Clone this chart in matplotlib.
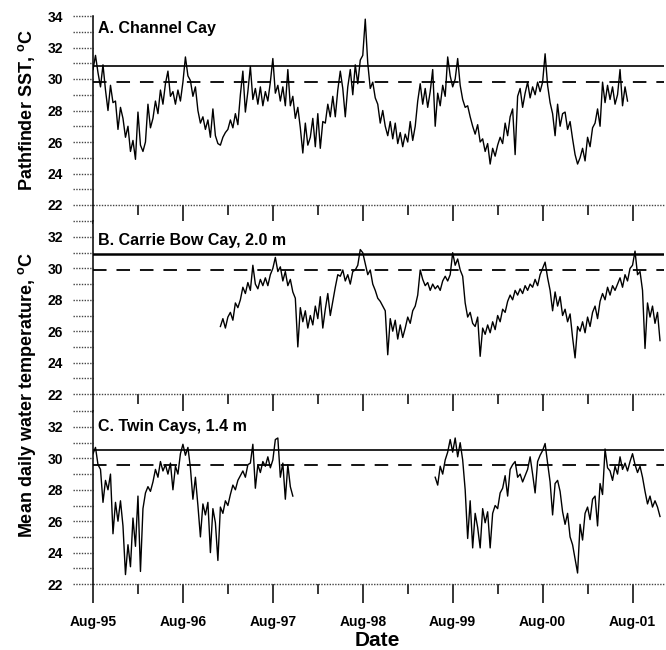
import matplotlib
matplotlib.use('Agg')
import matplotlib.pyplot as plt
import numpy as np

plt.rcParams['font.family'] = ['Liberation Sans', 'DejaVu Sans']
plt.rcParams['font.weight'] = 'bold'
plt.rcParams['mathtext.fontset'] = 'custom'
plt.rcParams['mathtext.rm'] = 'Liberation Sans:bold'
plt.rcParams['mathtext.bf'] = 'Liberation Sans:bold'
plt.rcParams['mathtext.it'] = 'Liberation Sans:bold'

# ---------------- data (x = months since Aug-1995, sampled ~every 10 days) ----------------
tick_labels = ["Aug-95", "Aug-96", "Aug-97", "Aug-98", "Aug-99", "Aug-00", "Aug-01"]
panel_titles = ["A. Channel Cay", "B. Carrie Bow Cay, 2.0 m", "C. Twin Cays, 1.4 m"]

a_start = 0.0
a_temp = [
    30.6, 31.5, 30.4, 29.5, 30.9, 29.3, 28.0, 29.6, 28.5, 28.6, 26.8, 28.2,
    27.5, 26.3, 27.0, 25.4, 26.1, 24.9, 27.9, 25.8, 25.4, 26.0, 28.4, 26.9,
    27.5, 28.6, 27.8, 29.3, 28.4, 29.7, 30.5, 28.9, 29.2, 28.4, 29.3, 28.6,
    29.8, 31.4, 30.2, 29.9, 28.9, 29.5, 28.0, 27.2, 27.6, 26.8, 27.4, 26.3,
    28.1, 26.4, 25.9, 25.8, 26.3, 26.6, 26.8, 27.4, 26.9, 27.8, 27.1, 29.0,
    30.5, 27.9, 29.2, 30.8, 28.7, 29.4, 28.4, 29.5, 28.3, 29.2, 28.6, 29.8,
    31.3, 29.1, 29.6, 28.6, 29.5, 28.3, 30.6, 28.3, 28.9, 27.5, 28.2, 26.9,
    25.3, 27.2, 25.8, 26.3, 27.5, 25.7, 27.8, 25.6, 27.3, 27.2, 28.4, 27.6,
    28.9, 27.6, 29.3, 30.5, 29.4, 27.6, 29.5, 30.6, 29.0, 30.9, 29.7, 31.2,
    31.5, 33.8, 31.0, 29.4, 29.8, 28.8, 28.4, 27.2, 28.0, 27.0, 26.4, 27.3,
    26.2, 27.2, 25.9, 26.6, 25.7, 26.5, 26.0, 27.3, 26.1, 27.0, 28.6, 29.7,
    28.4, 29.4, 28.2, 29.2, 30.6, 27.0, 29.1, 28.3, 29.6, 28.9, 31.4, 30.2,
    29.5, 30.0, 31.3, 29.6, 28.7, 28.2, 28.3, 27.6, 27.0, 26.5, 27.1, 26.0,
    26.2, 25.4, 25.9, 24.6, 25.6, 25.1, 25.8, 26.3, 25.9, 27.2, 26.4, 27.6,
    28.1, 25.2, 28.9, 29.4, 28.2, 29.1, 29.8, 28.8, 29.5, 29.0, 29.8, 29.2,
    29.8, 31.6, 29.6, 28.5, 27.8, 26.4, 28.4, 27.0, 27.8, 27.9, 26.8, 27.3,
    26.2, 25.2, 24.6, 25.0, 25.6, 24.8, 26.3, 25.7, 26.9, 27.2, 28.1, 27.0,
    29.8, 28.5, 29.6, 28.7, 29.5, 28.4, 29.0, 30.6, 28.3, 29.5, 28.6,
]

b_start = 17.0
b_temp = [
    26.3, 26.8, 26.2, 26.9, 27.2, 26.7, 27.8, 27.5, 28.0, 28.8, 28.4, 29.1,
    28.6, 30.2, 29.0, 28.7, 29.3, 28.9, 29.4, 28.9, 29.6, 30.0, 30.7, 29.8,
    30.1, 29.2, 29.8, 28.9, 29.3, 28.5, 28.1, 25.0, 27.5, 26.6, 27.3, 26.2,
    27.0, 26.4, 27.6, 26.8, 28.2, 26.2, 27.4, 28.4, 27.0, 27.9, 28.8, 29.6,
    29.5, 29.9, 29.2, 29.6, 29.0, 29.8, 29.9, 30.2, 31.2, 31.0, 30.3, 29.6,
    29.9, 29.0, 28.6, 28.1, 27.9, 27.6, 27.3, 24.5, 26.8, 26.0, 26.7, 25.5,
    26.4, 25.6, 26.2, 26.9, 26.5, 27.3, 27.6, 28.3, 29.9, 29.3, 28.9, 29.1,
    28.6, 29.0, 28.7, 28.9, 28.6, 29.2, 29.5, 29.2, 29.6, 31.0, 30.2, 30.6,
    29.9, 29.5, 27.8, 26.9, 27.2, 26.5, 26.3, 26.9, 24.4, 26.2, 25.8, 26.4,
    25.9, 26.6, 26.1, 27.0, 26.6, 27.4, 27.2, 27.9, 28.3, 28.0, 28.6, 28.3,
    28.7, 28.4, 28.9, 28.6, 29.0, 28.8, 29.3, 28.9, 29.6, 30.0, 30.4, 29.4,
    28.6, 27.3, 28.5, 27.6, 28.2, 27.0, 27.4, 26.6, 27.1, 25.6, 24.3, 26.3,
    26.0, 26.6, 25.9, 26.9, 26.3, 27.2, 27.6, 26.8, 27.9, 28.4, 28.0, 28.8,
    28.3, 28.9, 28.6, 29.0, 29.4, 28.8, 29.6, 29.2, 30.0, 30.2, 31.1, 29.6,
    29.8, 28.6, 24.9, 27.8, 26.9, 27.6, 26.5, 27.2, 25.4,
]

c1_start = 0.0
c1_temp = [
    30.3, 30.7, 29.6, 29.3, 27.2, 28.6, 28.0, 29.0, 25.2, 27.2, 26.0, 27.3,
    25.7, 22.6, 24.5, 23.1, 26.2, 24.4, 27.6, 22.8, 26.8, 27.8, 28.2, 27.9,
    28.5, 29.3, 28.8, 29.8, 29.2, 29.6, 29.0, 29.7, 28.0, 29.5, 29.0, 30.3,
    30.9, 30.2, 30.7, 29.4, 27.4, 28.8, 27.0, 25.0, 27.1, 26.4, 27.2, 24.0,
    26.8, 25.9, 23.5, 26.9, 26.5, 27.3, 27.0, 27.7, 28.3, 28.0, 28.6, 28.9,
    29.2, 28.8, 29.6, 29.7, 30.9, 28.1, 29.6, 29.1, 29.8, 29.5, 30.1, 29.4,
    29.9, 31.2, 31.3, 28.8, 29.7, 27.4, 29.6, 28.2, 27.6,
]

c2_start = 45.0 + 2.0 / 3.0
c2_temp = [
    28.8,
    28.3, 29.5, 29.0, 29.9, 30.4, 31.2, 30.4, 31.3, 30.1, 31.0, 29.9, 28.0,
    24.9, 27.3, 24.3, 26.5, 25.6, 24.3, 26.8, 25.9, 26.6, 24.3, 26.5, 27.0,
    26.8, 27.8, 28.1, 28.9, 27.6, 29.3, 29.6, 29.8, 28.8, 29.0, 28.5, 28.9,
    29.3, 30.1, 29.0, 27.8, 29.8, 30.2, 30.5, 30.95, 29.7, 28.5, 26.4, 28.4,
    28.6, 27.9, 26.6, 25.8, 26.5, 25.0, 24.5, 23.6, 22.7, 25.8, 24.8, 26.5,
    26.9, 26.1, 27.4, 27.6, 25.7, 28.4, 27.7, 30.6, 29.4, 29.2, 28.6, 29.5,
    29.0, 30.1, 29.3, 29.7, 29.2, 29.8, 30.3, 29.6, 29.1, 29.5, 28.8, 27.9,
    27.1, 27.6, 26.9, 27.3, 26.9, 26.3,
]

solid_thr = [30.82, 30.9, 30.55]
dashed_thr = [29.82, 29.88, 29.55]

# ---------------- figure ----------------
W, H = 666, 650
fig = plt.figure(figsize=(W / 100, H / 100), dpi=100)

x0, x1 = 93, 664
panels_px = [(16, 205, 34), (221.3, 394, 33), (411.3, 584, 33)]  # top px, bottom px, ymax
xlim = (0, 76.2)

axes = []
for (top, bot, ymax) in panels_px:
    ax = fig.add_axes([x0 / W, 1 - bot / H, (x1 - x0) / W, (bot - top) / H])
    ax.set_xlim(*xlim)
    ax.set_ylim(22, ymax)
    axes.append(ax)

series = [
    [(a_start, a_temp)],
    [(b_start, b_temp)],
    [(c1_start, c1_temp), (c2_start, c2_temp)],
]

tick_len_frac = 20 / (x1 - x0)
for i, ax in enumerate(axes):
    ymax = ax.get_ylim()[1]
    for spine in ['top', 'right', 'bottom']:
        ax.spines[spine].set_visible(False)
    ax.spines['left'].set_linewidth(1.1)

    for start, vals in series[i]:
        xs = start + np.arange(len(vals)) / 3.0
        ax.plot(xs, vals, color='black', lw=1.0, zorder=3)

    ax.axhline(solid_thr[i], color='black', lw=1.8 if i == 1 else 1.2, zorder=2)
    ax.axhline(dashed_thr[i], color='black', lw=1.3, linestyle=(0, (7.5, 5.5)), zorder=2)

    # dotted tick marks on the y axis and dotted baseline
    levels = np.arange(22, int(ymax) + 1)
    ax.hlines(levels, -tick_len_frac, 0, transform=ax.get_yaxis_transform(),
              clip_on=False, colors='#444444', lw=1.0, linestyles=[(0, (1, 1))])
    ax.hlines([22], 0, 1, transform=ax.get_yaxis_transform(),
              clip_on=False, colors='#444444', lw=1.0, linestyles=[(0, (1, 1))])

    yt = np.arange(22, int(ymax) + 1, 2)
    ax.set_yticks(yt)
    ax.set_yticklabels([str(v) for v in yt], fontsize=10, fontweight='bold')
    ax.tick_params(axis='y', length=0, pad=21.5)

    ax.set_xticks(np.arange(0, 76, 12))
    ax.set_xticks(np.arange(6, 76, 12), minor=True)
    ax.tick_params(axis='x', which='major', length=13.5, width=1.1, direction='out')
    ax.tick_params(axis='x', which='minor', length=7, width=1.1, direction='out')
    if i < 2:
        ax.set_xticklabels([])
    else:
        ax.set_xticklabels(tick_labels, fontsize=10, fontweight='bold')
        ax.tick_params(axis='x', which='major', pad=9)

    ytxt = [0.975, 0.935, 0.955][i]
    ax.text(0.009, ytxt, panel_titles[i], transform=ax.transAxes, ha='left', va='top',
            fontsize=11.5, fontweight='bold')

fig.text(27 / W, 1 - 110.5 / H, r"Pathfinder SST, $^{\mathbf{o}}$C", rotation=90,
         ha='center', va='center', fontsize=13, fontweight='bold')
fig.text(27 / W, 1 - 395 / H, r"Mean daily water temperature, $^{\mathbf{o}}$C", rotation=90,
         ha='center', va='center', fontsize=13, fontweight='bold')
fig.text(377 / W, 1 - 640 / H, "Date", ha='center', va='center', fontsize=15, fontweight='bold')

fig.savefig('out.png', dpi=100)
